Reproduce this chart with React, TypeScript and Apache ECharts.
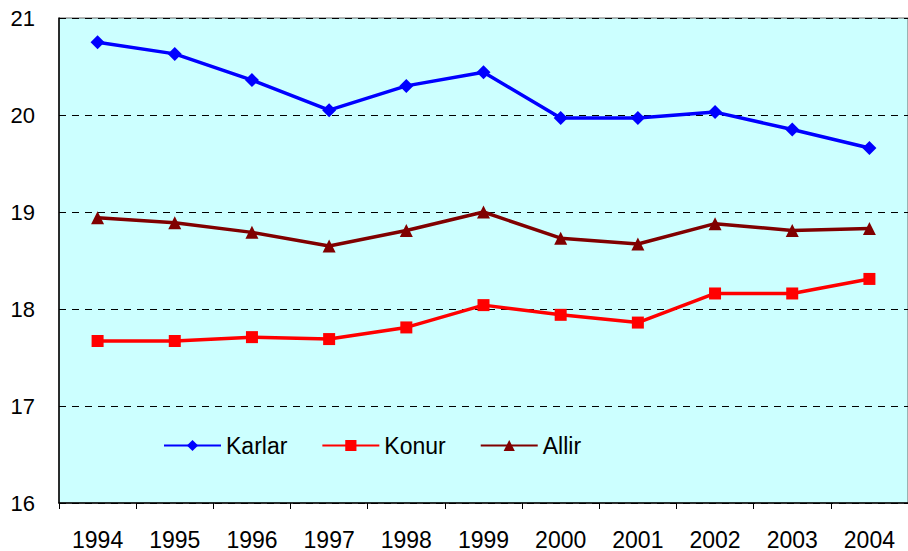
import React, { useEffect, useRef } from "react";
import * as echarts from "echarts";

const years = ["1994", "1995", "1996", "1997", "1998", "1999", "2000", "2001", "2002", "2003", "2004"];
const karlar = [20.75, 20.63, 20.36, 20.05, 20.3, 20.44, 19.97, 19.97, 20.03, 19.85, 19.66];
const konur = [17.67, 17.67, 17.71, 17.69, 17.81, 18.04, 17.94, 17.86, 18.16, 18.16, 18.31];
const allir = [18.94, 18.89, 18.79, 18.65, 18.81, 19.0, 18.73, 18.67, 18.88, 18.81, 18.83];

const FONT = "'Liberation Sans', Arial, sans-serif";

export default function App() {
  const ref = useRef<HTMLDivElement>(null);
  useEffect(() => {
    if (!ref.current) return;
    const chart = echarts.init(ref.current, undefined, { renderer: "svg" });
    chart.setOption({
      animation: false,
      grid: {
        left: 59,
        top: 18,
        width: 854,
        bottom: 48,
        show: true,
        backgroundColor: "#CCFFFF",
        borderColor: "#666",
        borderWidth: 1,
      },
      legend: {
        left: 163,
        top: 434,
        padding: 0,
        itemWidth: 57,
        itemHeight: 14,
        itemGap: 34,
        textStyle: { fontFamily: FONT, fontSize: 23, color: "#000", padding: [0, 0, 0, 0] },
        data: ["Karlar", "Konur", "Allir"],
      },
      xAxis: {
        type: "category",
        data: years,
        boundaryGap: true,
        axisLine: { lineStyle: { color: "#000", width: 1.5 } },
        axisTick: { show: true, length: 6, lineStyle: { color: "#000" } },
        axisLabel: { fontFamily: FONT, fontSize: 23, color: "#000", margin: 25 },
        splitLine: { show: false },
      },
      yAxis: {
        type: "value",
        min: 16,
        max: 21,
        interval: 1,
        axisLine: { show: true, lineStyle: { color: "#000", width: 1.5 } },
        axisTick: { show: false },
        axisLabel: { fontFamily: FONT, fontSize: 22, color: "#000", margin: 24 },
        splitLine: { show: true, lineStyle: { color: "#000", type: [7, 6], width: 1 } },
      },
      series: [
        {
          name: "Karlar",
          type: "line",
          data: karlar,
          symbol: "diamond",
          symbolSize: 14,
          lineStyle: { color: "#0000FF", width: 3.5 },
          itemStyle: { color: "#0000FF" },
        },
        {
          name: "Konur",
          type: "line",
          data: konur,
          symbol: "rect",
          symbolSize: 12,
          lineStyle: { color: "#FF0000", width: 3.5 },
          itemStyle: { color: "#FF0000" },
        },
        {
          name: "Allir",
          type: "line",
          data: allir,
          symbol: "triangle",
          symbolSize: 13,
          lineStyle: { color: "#800000", width: 3.5 },
          itemStyle: { color: "#800000" },
        },
      ],
    });
    return () => chart.dispose();
  }, []);
  return <div ref={ref} style={{ width: 908, height: 551, position: "absolute", left: 0, top: 0 }} />;
}
